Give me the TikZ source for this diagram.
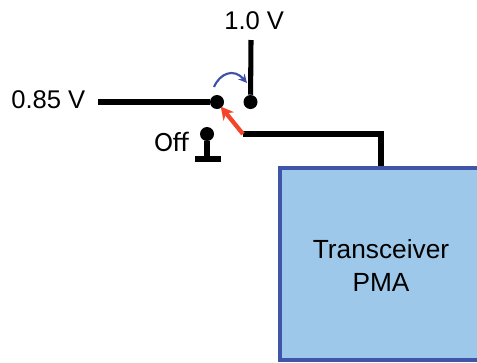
\documentclass[tikz,border=0pt]{standalone}
\usepackage{fontspec}
\setmainfont{Liberation Sans}
\newfontfamily\offfont{Carlito}
\usetikzlibrary{arrows.meta,positioning,calc}

\begin{document}
\begin{tikzpicture}[
    x=0.75pt, y=-0.75pt,
    % Node styles
    terminal/.style={circle, fill=black, inner sep=0pt, minimum size=10.5pt},
    supply/.style={inner sep=0pt, font=\fontsize{19.2}{23}\selectfont},
    pmabox/.style={rectangle, draw=pmaedge, fill=pmafill, line width=3pt,
                   minimum width=152pt, minimum height=144pt, align=center,
                   font=\fontsize{19.7}{24.5}\selectfont},
    wire/.style={line width=3.8pt, black},
    switcharrow/.style={line width=3.2pt,-{Stealth[length=9.5pt,width=10pt]},switchred,shorten >=-1pt},
    movearrow/.style={line width=1.6pt,-{Stealth[length=6.5pt,width=6.5pt]},movblue}
]
\definecolor{pmaedge}{HTML}{3F56A8}
\definecolor{pmafill}{HTML}{9DC8EA}
\definecolor{switchred}{HTML}{F4452A}
\definecolor{movblue}{HTML}{3F51A8}

\useasboundingbox (0,0) rectangle (477,362);

% Terminals
\node[terminal] (low) at (217,102) {};
\node[terminal] (high) at (250.5,102) {};
\node[terminal] (off) at (207,134) {};

% Free line ends
\coordinate (lowend) at (98,102);
\coordinate (highend) at (251,40);
\coordinate (offfoot) at (207,159);
\coordinate (offleft) at (195,159);
\coordinate (offright) at (221,159);
\coordinate (pivot) at (243,134);
\coordinate (movefrom) at (214,87);
\coordinate (moveto) at (247,83);

% Labels
\node[supply, anchor=base west] (lowlabel) at (11,108.5) {0.85 V};
\node[supply, anchor=base west] (highlabel) at (224,29.5) {1.0 V};
\node[supply, anchor=base west, font=\offfont\fontsize{21}{24}\selectfont] (offlabel) at (154,151.5) {Off};

% Transceiver
\node[pmabox] (pma) at (381,263.5) {\rule{0pt}{17pt}Transceiver\\PMA};

% Wires
\draw[wire] (lowend) -- (low);
\draw[wire] (highend) -- (high);
\draw[wire] (off) -- (offfoot);
\draw[wire] (offleft) -- (offright);
\draw[wire] (pivot) -| (pma.north);

% Switch
\draw[switcharrow] (pivot) -- (low);
\draw[movearrow] (movefrom) .. controls (220,73) and (234,68) .. (moveto);

\end{tikzpicture}
\end{document}
